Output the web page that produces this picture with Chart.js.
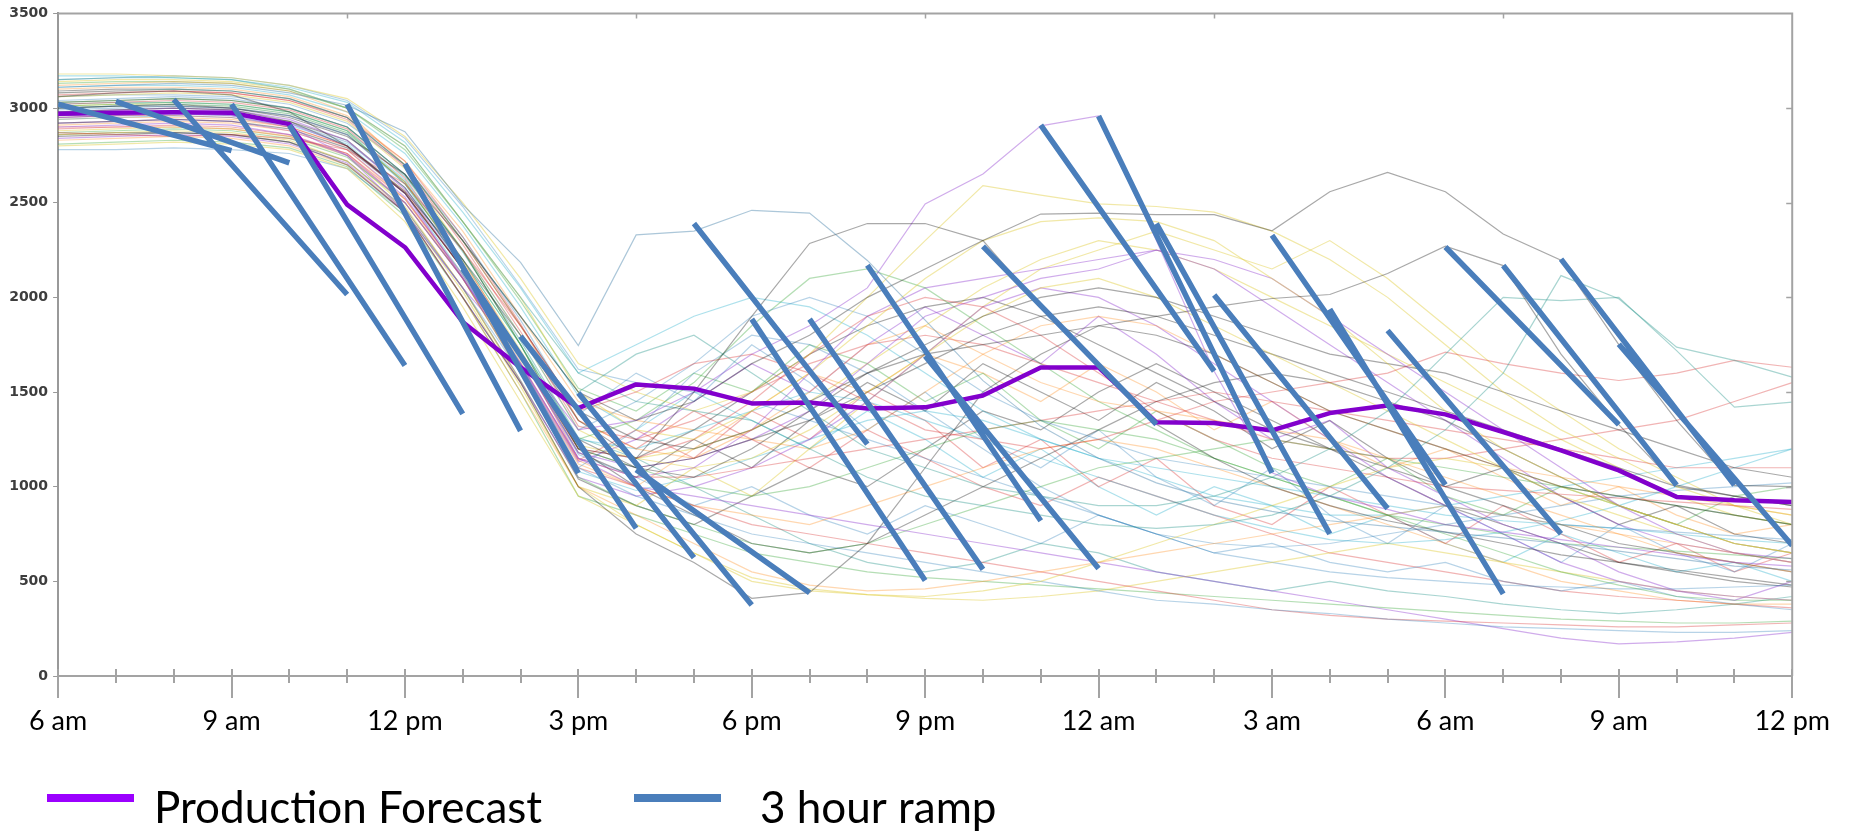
<!DOCTYPE html>
<html>
<head>
<meta charset="utf-8">
<script src="https://cdn.jsdelivr.net/npm/chart.js@4.4.1/dist/chart.umd.min.js"></script>
<style>
  html, body { margin: 0; padding: 0; background: #ffffff; }
  canvas { display: block; }
</style>
</head>
<body>
<canvas id="chart" width="1859" height="834"></canvas>
<script>
// Hours after 6 am (0 = 6 am, 30 = 12 pm next day)
const hours = [0,1,2,3,4,5,6,7,8,9,10,11,12,13,14,15,16,17,18,19,20,21,22,23,24,25,26,27,28,29,30];

// Bottom axis labels, one every three hours
const tickLabels = ['6 am','9 am','12 pm','3 pm','6 pm','9 pm','12 am','3 am','6 am','9 am','12 pm'];

const seriesLabels = ['Production Forecast', '3 hour ramp'];

// Production forecast (MW)
const productionForecast = [2970,2975,2978,2975,2915,2490,2265,1870,1630,1415,1540,1518,1440,1445,1413,1419,1482,1630,1630,1340,1336,1297,1389,1429,1382,1289,1192,1086,946,928,919];

// Largest three-hour drops: start hour, value at start, value three hours later
const rampStartHours = [0,1,2,3,4,5,6,7,8,9,10,11,12,13,14,15,16,17,18,19,20,21,22,23,24,25,26,27];
const rampStartValues = [3020,3035,3045,3020,2910,3020,2705,2150,1795,1495,1090,2390,1885,1885,2170,1690,2269,2910,2958,2390,2013,2328,1938,1825,2266,2168,2202,1752];
const rampEndValues = [2775,2710,2015,1640,1385,1295,1072,780,625,375,440,1225,505,563,820,568,1330,1610,1073,751,885,1010,434,751,1328,1008,1008,689];
const rampLength = 3;

// Ensemble members (MW per hour)
const ensembleRuns = [
  [3110,3120,3130,3120,3080,3015,2875,2490,2185,1745,2330,2350,2460,2445,2195,1880,1560,1320,1150,1020,930,870,820,790,760,730,700,660,620,580,560],
  [3060,3080,3090,3070,2980,2800,2560,2200,1800,1350,1150,1500,1900,2285,2390,2390,2300,1950,1650,1330,1150,1000,900,820,760,700,640,600,560,520,480],
  [2950,2960,2970,2960,2900,2750,2450,2050,1700,1300,1350,1500,1700,1850,2050,2494,2652,2906,2958,2300,1610,1073,950,880,800,760,720,680,640,600,580],
  [3000,3010,3020,3000,2950,2850,2650,2300,1900,1500,1350,1450,1650,1800,2000,2150,2300,2440,2445,2437,2437,2352,2558,2660,2558,2335,2196,1750,1350,1007,1000],
  [2980,2990,3000,2990,2930,2800,2550,2150,1700,1250,1100,1050,1200,1400,1600,1700,1750,1800,1850,1900,1950,1994,2015,2126,2270,2168,1700,1328,1008,950,900],
  [3150,3160,3160,3150,3100,3000,2800,2400,2000,1600,1450,1400,1350,1200,1050,950,900,850,800,780,800,850,950,1100,1300,1600,2115,1993,1737,1667,1579],
  [3080,3090,3100,3090,3050,2950,2700,2300,1900,1500,1700,1800,1600,1400,1200,1100,1000,950,900,900,950,1050,1200,1400,1700,2000,1983,2000,1719,1420,1447],
  [2870,2860,2850,2860,2840,2780,2600,2250,1850,1400,1500,1650,1700,1600,1450,1300,1250,1200,1250,1350,1450,1500,1550,1600,1711,1650,1600,1561,1600,1667,1631],
  [3180,3180,3170,3160,3120,3050,2850,2500,2100,1650,1500,1400,1500,1700,2000,2300,2590,2540,2494,2480,2450,2350,2200,2000,1750,1500,1300,1150,1000,900,850],
  [3140,3150,3150,3140,3100,3000,2800,2400,2000,1500,1300,1250,1400,1600,1850,2100,2300,2400,2420,2400,2300,2100,1900,1650,1400,1200,1050,900,800,700,650],
  [3120,3130,3140,3130,3090,2980,2700,2300,1850,1350,1200,1150,1300,1500,1750,1850,1700,1550,1450,1400,1350,1300,1250,1150,1050,950,850,750,650,600,550],
  [3040,3050,3060,3050,3000,2900,2650,2250,1800,1300,1450,1650,1900,2000,1900,1700,1500,1350,1250,1150,1100,1050,1000,950,900,850,800,780,760,740,720],
  [3010,3020,3030,3020,2980,2880,2600,2200,1750,1250,1350,1550,1850,2100,2150,2050,1850,1650,1450,1300,1150,1050,950,850,800,750,700,680,660,640,620],
  [2950,2960,2960,2950,2900,2800,2550,2150,1700,1200,1150,1250,1450,1700,1900,2000,1950,1800,1600,1400,1250,1150,1100,1050,1000,980,960,940,920,900,880],
  [2900,2910,2920,2910,2860,2750,2500,2100,1650,1150,1050,1100,1300,1600,1900,2050,2100,2150,2200,2250,2200,2100,1900,1700,1500,1300,1100,900,750,650,600],
  [2850,2860,2870,2860,2820,2700,2450,2000,1550,1000,750,600,410,440,700,1100,1500,1700,1850,1800,1700,1550,1400,1300,1200,1100,1000,950,900,850,800],
  [2800,2810,2820,2810,2780,2680,2400,1950,1450,950,800,650,500,450,430,420,450,500,600,700,800,900,1000,1100,1150,1100,1000,900,800,700,650],
  [2830,2840,2850,2840,2800,2700,2450,2000,1500,1000,850,700,550,480,450,460,500,550,600,650,700,750,800,850,900,850,800,750,700,650,600],
  [3170,3170,3160,3150,3110,3030,2820,2450,2050,1600,1750,1900,2000,1950,1800,1600,1400,1250,1150,1100,1050,1000,950,900,850,820,800,780,750,720,700],
  [3090,3100,3100,3090,3050,2950,2700,2300,1850,1400,1250,1200,1300,1450,1600,1750,1900,2000,2050,2000,1900,1800,1700,1650,1600,1500,1400,1300,1200,1100,1050],
  [2780,2780,2790,2780,2760,2680,2450,2050,1600,1100,950,850,750,700,650,600,550,500,450,400,380,350,330,300,280,260,250,240,230,230,240],
  [3030,3040,3050,3040,3000,2900,2650,2250,1750,1200,1100,1000,950,1000,1100,1200,1300,1350,1300,1250,1150,1050,950,850,750,650,550,480,420,400,400],
  [2900,2900,2910,2900,2860,2760,2500,2100,1600,1100,1000,900,800,750,700,650,600,550,500,450,400,350,320,300,290,280,270,260,260,270,280],
  [2960,2970,2980,2970,2920,2800,2550,2100,1650,1150,1000,950,900,850,800,750,700,650,600,550,500,450,400,350,300,250,200,170,180,200,230],
  [3060,3070,3080,3070,3030,2930,2680,2250,1800,1300,1150,1100,1150,1300,1500,1700,1900,2050,2100,2000,1850,1700,1550,1400,1250,1100,950,850,750,650,600],
  [2920,2930,2940,2930,2890,2790,2550,2150,1700,1200,1100,1150,1250,1350,1500,1650,1800,1900,1950,1900,1800,1700,1600,1500,1400,1300,1200,1100,1000,950,900],
  [3000,3010,3020,3010,2970,2870,2620,2200,1750,1250,1200,1300,1400,1500,1450,1350,1250,1150,1050,950,850,780,720,700,720,760,820,900,1000,1100,1200],
  [2990,3000,3010,3000,2960,2860,2600,2150,1650,1100,1300,1600,1800,1750,1600,1400,1200,1000,850,750,700,680,700,750,800,850,900,950,980,1000,1020],
  [3100,3110,3110,3100,3060,2960,2720,2350,1900,1450,1350,1300,1250,1200,1300,1500,1700,1850,1900,1850,1700,1550,1400,1300,1200,1100,1050,1000,950,900,850],
  [2870,2880,2890,2880,2840,2740,2500,2100,1600,1050,900,800,700,650,700,800,900,1000,1100,1150,1200,1250,1200,1150,1100,1050,1000,950,900,850,800],
  [3020,3030,3040,3030,2990,2890,2630,2200,1700,1150,1050,1050,1100,1150,1200,1250,1300,1350,1400,1450,1500,1450,1400,1350,1300,1250,1200,1150,1100,1100,1100],
  [2840,2850,2860,2850,2810,2710,2450,2000,1550,1050,950,1000,1100,1250,1450,1700,1950,2050,2000,1850,1650,1450,1250,1050,900,750,600,500,450,420,400],
  [2880,2890,2900,2890,2850,2750,2480,2050,1550,1000,800,650,520,460,430,410,400,420,450,500,550,600,650,700,650,600,550,500,450,420,400],
  [3030,3040,3050,3040,3000,2900,2650,2250,1750,1200,1000,850,700,650,700,850,1000,1150,1300,1450,1550,1600,1550,1450,1350,1200,1050,900,800,700,650],
  [2940,2950,2960,2950,2910,2810,2550,2120,1620,1080,980,1050,1150,1250,1350,1400,1350,1250,1150,1050,950,900,850,850,900,950,1000,1050,1100,1150,1200],
  [3150,3160,3170,3160,3120,3040,2840,2480,2060,1620,1550,1500,1450,1350,1250,1150,1050,950,850,750,650,600,550,520,500,480,470,460,460,470,480],
  [2810,2820,2830,2820,2790,2690,2430,2000,1500,950,850,750,650,600,550,520,500,480,460,440,420,400,380,360,340,320,300,290,280,280,290],
  [3070,3080,3090,3080,3040,2940,2690,2280,1820,1320,1250,1350,1500,1650,1750,1800,1750,1650,1550,1450,1350,1250,1200,1150,1150,1200,1250,1300,1350,1450,1550],
  [2980,2990,3000,2990,2940,2830,2570,2150,1680,1180,1100,1150,1250,1400,1650,1900,2000,2100,2150,2250,2150,1950,1750,1550,1350,1150,950,800,700,650,620],
  [2910,2920,2930,2920,2880,2780,2520,2100,1620,1120,1000,900,850,800,900,1000,1100,1200,1250,1200,1100,1000,900,800,700,600,500,450,400,380,380],
  [2960,2970,2980,2970,2930,2830,2580,2170,1700,1200,1150,1300,1500,1700,1850,1950,2000,1900,1750,1600,1450,1300,1200,1100,1000,900,800,700,650,600,550],
  [3010,3020,3020,3010,2970,2870,2610,2190,1720,1220,1150,1200,1300,1450,1650,1850,2050,2200,2300,2250,2150,2000,1850,1700,1550,1400,1250,1100,950,850,800],
  [3060,3070,3070,3060,3020,2920,2700,2320,1880,1380,1600,1450,1750,1550,1300,1500,1250,1100,1300,1050,900,1100,850,700,900,750,600,800,650,550,700],
  [2890,2900,2900,2890,2850,2760,2520,2120,1640,1140,1300,1150,1400,1250,1500,1350,1100,1250,1000,1150,900,800,1000,850,700,900,750,600,700,550,650],
  [3130,3140,3140,3130,3090,3000,2780,2400,1980,1520,1400,1600,1500,1750,1650,1450,1600,1350,1200,1400,1250,1100,1000,1150,950,850,1000,900,800,950,1000],
  [2920,2930,2940,2930,2880,2780,2530,2110,1630,1130,1250,1450,1650,1500,1750,1950,1800,1650,1900,1700,1450,1250,1350,1100,950,800,700,550,450,400,500],
  [3000,3010,3010,3000,2960,2860,2610,2180,1700,1180,1050,1250,1100,1350,1550,1400,1650,1500,1350,1550,1400,1200,1350,1150,1000,1100,950,800,900,750,700],
  [3110,3120,3120,3110,3070,2980,2760,2380,1950,1480,1300,1500,1350,1200,1400,1250,1050,1200,1000,850,1000,900,750,850,700,600,750,650,550,600,500],
  [2860,2870,2880,2870,2830,2720,2460,2030,1530,1000,900,1100,950,1200,1450,1700,1950,2150,2250,2350,2250,2150,2300,2100,1850,1600,1400,1200,1050,900,800],
  [2940,2950,2950,2940,2900,2800,2560,2150,1660,1140,1000,1200,1400,1600,1500,1700,1600,1450,1650,1500,1300,1450,1250,1100,1200,1050,900,1000,850,750,800],
  [3020,3030,3030,3020,2980,2880,2640,2240,1770,1260,1150,1000,850,700,600,550,600,700,650,550,500,450,500,450,420,380,350,330,350,380,420],
  [2950,2960,2970,2960,2920,2820,2580,2170,1690,1170,1050,900,1000,850,750,900,800,700,850,750,650,700,600,550,600,500,450,500,420,380,350],
  [3080,3090,3090,3080,3040,2950,2720,2320,1860,1350,1200,1400,1250,1100,1300,1150,1000,900,1050,950,850,750,650,600,550,500,450,420,400,380,360],
  [2860,2870,2870,2860,2820,2720,2470,2050,1560,1040,900,800,950,1100,1000,1200,1400,1300,1500,1650,1500,1350,1200,1050,900,800,700,600,550,500,470]
];

// Thin member line colours
const memberPalette = {
  steel:  'rgba(70,130,170,0.45)',
  black:  'rgba(30,30,30,0.38)',
  purple: 'rgba(150,70,210,0.45)',
  teal:   'rgba(40,150,140,0.40)',
  red:    'rgba(214,39,40,0.35)',
  yellow: 'rgba(225,205,60,0.45)',
  orange: 'rgba(255,140,30,0.35)',
  blue:   'rgba(31,119,180,0.32)',
  green:  'rgba(44,160,44,0.35)',
  cyan:   'rgba(23,170,200,0.35)'
};
const memberColorKeys = ['steel','black','purple','black','black','teal','teal','red','yellow','yellow',
  'orange','blue','green','red','purple','black','yellow','orange','cyan','black',
  'blue','green','red','purple','yellow','black','cyan','blue','orange','green',
  'red','purple','yellow','black','cyan','blue','green','red','purple','orange',
  'black','yellow','blue','red','green','purple','black','cyan','yellow','orange',
  'teal','blue','red','black'];

const forecastColor = '#8200cc';
const forecastLegendColor = '#9b00ff';
const rampColor = '#4a7ebb';
const axisGray = '#a3a3a3';
const frameTickHours = [5, 10, 15, 20, 25];

function toPoints(values) {
  return values.map((v, i) => ({ x: hours[i], y: v }));
}

function rampPoints() {
  const pts = [];
  rampStartHours.forEach((h, i) => {
    pts.push({ x: h, y: rampStartValues[i] });
    pts.push({ x: h + rampLength, y: rampEndValues[i] });
    pts.push({ x: h + rampLength, y: null });
  });
  return pts;
}

const datasets = [];
datasets.push({
  label: seriesLabels[1],
  data: rampPoints(),
  borderColor: rampColor,
  borderWidth: 5.5,
  borderCapStyle: 'butt',
  pointRadius: 0,
  spanGaps: false,
  order: 0
});
datasets.push({
  label: seriesLabels[0],
  data: toPoints(productionForecast),
  borderColor: forecastColor,
  borderWidth: 4.5,
  borderJoinStyle: 'round',
  pointRadius: 0,
  order: 1
});
ensembleRuns.forEach((run, i) => {
  datasets.push({
    label: 'member ' + (i + 1),
    data: toPoints(run),
    borderColor: memberPalette[memberColorKeys[i % memberColorKeys.length]],
    borderWidth: 1.2,
    pointRadius: 0,
    order: 2
  });
});

// Box frame, hour tick marks and inner ticks on the top and right edges
const framePlugin = {
  id: 'frame',
  afterDraw(chart) {
    const { ctx, chartArea: { left, right, top, bottom }, scales: { x, y } } = chart;
    ctx.save();
    ctx.strokeStyle = axisGray;
    ctx.lineWidth = 2;
    ctx.beginPath();
    ctx.moveTo(left, top);
    ctx.lineTo(right, top);
    ctx.lineTo(right, bottom);
    ctx.stroke();
    ctx.lineWidth = 1.5;
    ctx.beginPath();
    frameTickHours.forEach(h => {
      const px = Math.round(x.getPixelForValue(h)) + 0.5;
      ctx.moveTo(px, top);
      ctx.lineTo(px, top + 5);
    });
    y.ticks.forEach(t => {
      if (t.value <= 0 || t.value >= 3500) return;
      const py = Math.round(y.getPixelForValue(t.value)) + 0.5;
      ctx.moveTo(right - 6, py);
      ctx.lineTo(right, py);
    });
    ctx.stroke();
    ctx.lineWidth = 2;
    ctx.beginPath();
    hours.forEach(h => {
      const px = Math.round(x.getPixelForValue(h));
      ctx.moveTo(px, bottom - 7);
      ctx.lineTo(px, bottom + (h % 3 === 0 ? 22 : 7));
    });
    ctx.stroke();
    ctx.restore();
  }
};

// Legend drawn beneath the axis
const legendPlugin = {
  id: 'bottomLegend',
  afterDraw(chart) {
    const { ctx } = chart;
    const items = [
      { text: seriesLabels[0], color: forecastLegendColor, x: 47, w: 87, textX: 154 },
      { text: seriesLabels[1], color: rampColor, x: 634, w: 87, textX: 760 }
    ];
    ctx.save();
    ctx.font = '44px Lato';
    ctx.textBaseline = 'alphabetic';
    ctx.textAlign = 'left';
    items.forEach(it => {
      ctx.fillStyle = it.color;
      ctx.fillRect(it.x, 794, it.w, 8);
      ctx.fillStyle = '#000000';
      ctx.fillText(it.text, it.textX, 823);
    });
    ctx.restore();
  }
};

function build() {
  new Chart(document.getElementById('chart'), {
    type: 'line',
    data: { datasets },
    plugins: [framePlugin, legendPlugin],
    options: {
      responsive: false,
      animation: false,
      devicePixelRatio: 1,
      layout: { padding: { top: 13, right: 47, bottom: 88, left: 0 } },
      plugins: { legend: { display: false }, tooltip: { enabled: false } },
      elements: { line: { tension: 0 } },
      scales: {
        x: {
          type: 'linear',
          min: 0,
          max: 30,
          ticks: {
            stepSize: 3,
            autoSkip: false,
            maxRotation: 0,
            padding: 29,
            color: '#000000',
            font: { family: 'Lato', size: 27 },
            callback: (value) => (value % 3 === 0 ? tickLabels[value / 3] : '')
          },
          grid: { display: false, drawTicks: false },
          border: { display: true, color: axisGray, width: 2 },
          afterFit: (scale) => { scale.height = 70; }
        },
        y: {
          min: 0,
          max: 3500,
          ticks: {
            stepSize: 500,
            padding: 5,
            color: '#3d3d3d',
            font: { family: 'DejaVu Sans', size: 14, weight: 'bold' },
            callback: (value) => String(value)
          },
          grid: { drawOnChartArea: false, drawTicks: true, tickLength: 5, color: '#999999' },
          border: { display: true, color: '#999999', width: 2 },
          afterFit: (scale) => { scale.width = 52; }
        }
      }
    }
  });
}

Promise.all([
  document.fonts.load('27px Lato'),
  document.fonts.load('44px Lato'),
  document.fonts.load('bold 14px "DejaVu Sans"')
]).then(build, build);
</script>
</body>
</html>
